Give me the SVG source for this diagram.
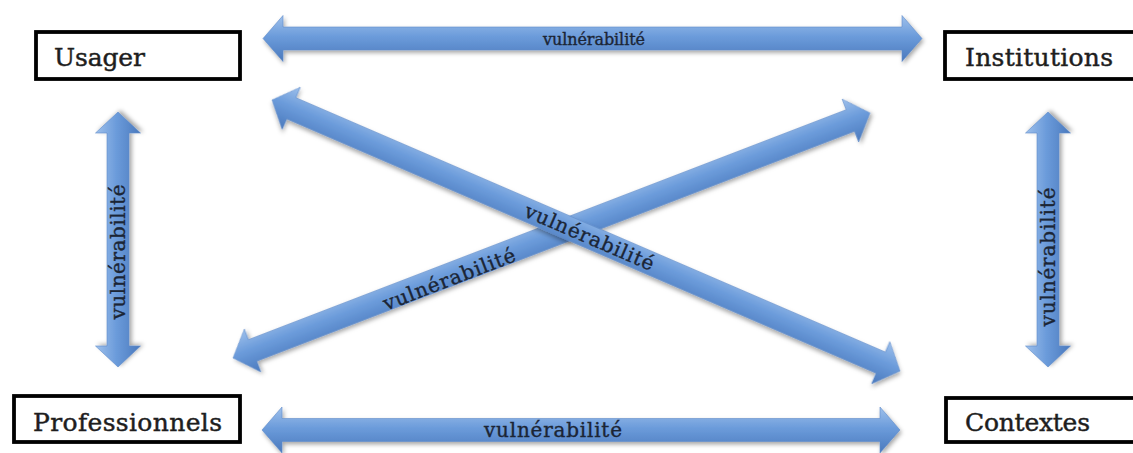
<svg xmlns="http://www.w3.org/2000/svg" width="1133" height="453" viewBox="0 0 1133 453">
  <defs>
    <linearGradient id="arrowFill" x1="0" y1="0" x2="0" y2="1">
      <stop offset="0" stop-color="#9ec0eb"/>
      <stop offset="0.45" stop-color="#6c9cdb"/>
      <stop offset="1" stop-color="#4a79bd"/>
    </linearGradient>
    <filter id="soft" x="-10%" y="-30%" width="120%" height="160%">
      <feDropShadow dx="1.5" dy="2.5" stdDeviation="2" flood-color="#000" flood-opacity="0.35"/>
    </filter>
    <style>
      .arrow { fill: url(#arrowFill); stroke: #5f8cc9; stroke-width: 0.6; filter: url(#soft); }
      .lbl { font-family: "DejaVu Serif", "Liberation Serif", serif; fill: #1b2535; stroke: #1b2535; stroke-width: 0.35; text-anchor: middle; }
      .box { fill: #fff; stroke: #000; stroke-width: 3.8; }
      .name { font-family: "DejaVu Serif", "Liberation Serif", serif; font-size: 25px; fill: #1e1e1e; stroke: #1e1e1e; stroke-width: 0.45; }
    </style>
  </defs>
  <rect width="1133" height="453" fill="#fff"/>

  <g id="connectors">
    <!-- Usager <-> Institutions -->
    <g transform="translate(263,38.5)">
      <path class="arrow" d="M0,0 L20,-23 L20,-11.5 L639,-11.5 L639,-23 L659,0 L639,23 L639,11.5 L20,11.5 L20,23 Z"/>
      <text class="lbl" x="331" y="6" font-size="16" textLength="102">vulnérabilité</text>
    </g>
    <!-- Professionnels <-> Contextes -->
    <g transform="translate(262,430)">
      <path class="arrow" d="M0,0 L20,-23 L20,-11.5 L618,-11.5 L618,-23 L638,0 L618,23 L618,11.5 L20,11.5 L20,23 Z"/>
      <text class="lbl" x="291" y="7" font-size="20" textLength="138">vulnérabilité</text>
    </g>
    <!-- Usager <-> Professionnels -->
    <g transform="translate(118,367) rotate(-90)">
      <path class="arrow" d="M0,0 L21,-22.5 L21,-11 L234,-11 L234,-22.5 L255,0 L234,22.5 L234,11 L21,11 L21,22.5 Z"/>
      <text class="lbl" x="115" y="7" font-size="20" textLength="135">vulnérabilité</text>
    </g>
    <!-- Institutions <-> Contextes -->
    <g transform="translate(1048,367) rotate(-90)">
      <path class="arrow" d="M0,0 L21,-22.5 L21,-11 L234,-11 L234,-22.5 L255,0 L234,22.5 L234,11 L21,11 L21,22.5 Z"/>
      <text class="lbl" x="110" y="7" font-size="20" textLength="139">vulnérabilité</text>
    </g>
    <!-- Professionnels <-> Institutions -->
    <g transform="translate(233,358) rotate(-21.04)">
      <path class="arrow" d="M0,0 L21,-23 L21,-11.5 L661.5,-11.5 L661.5,-23 L682.5,0 L661.5,23 L661.5,11.5 L21,11.5 L21,23 Z"/>
      <text class="lbl" x="230" y="11" font-size="20" textLength="140">vulnérabilité</text>
    </g>
    <!-- Usager <-> Contextes -->
    <g transform="translate(272,100) rotate(23.34)">
      <path class="arrow" d="M0,0 L21,-23 L21,-11.5 L663,-11.5 L663,-23 L684,0 L663,23 L663,11.5 L21,11.5 L21,23 Z"/>
      <text class="lbl" x="346" y="7" font-size="20" textLength="139">vulnérabilité</text>
    </g>
  </g>

  <g id="usager">
    <rect class="box" x="36" y="32" width="204" height="47"/>
    <text class="name" x="54" y="66" textLength="91">Usager</text>
  </g>
  <g id="institutions">
    <rect class="box" x="945" y="32" width="192" height="47"/>
    <text class="name" x="965" y="66" textLength="148">Institutions</text>
  </g>
  <g id="professionnels">
    <rect class="box" x="14" y="396" width="226" height="46"/>
    <text class="name" x="33" y="431" textLength="189">Professionnels</text>
  </g>
  <g id="contextes">
    <rect class="box" x="946" y="398" width="192" height="44"/>
    <text class="name" x="965" y="431" textLength="125">Contextes</text>
  </g>
</svg>
